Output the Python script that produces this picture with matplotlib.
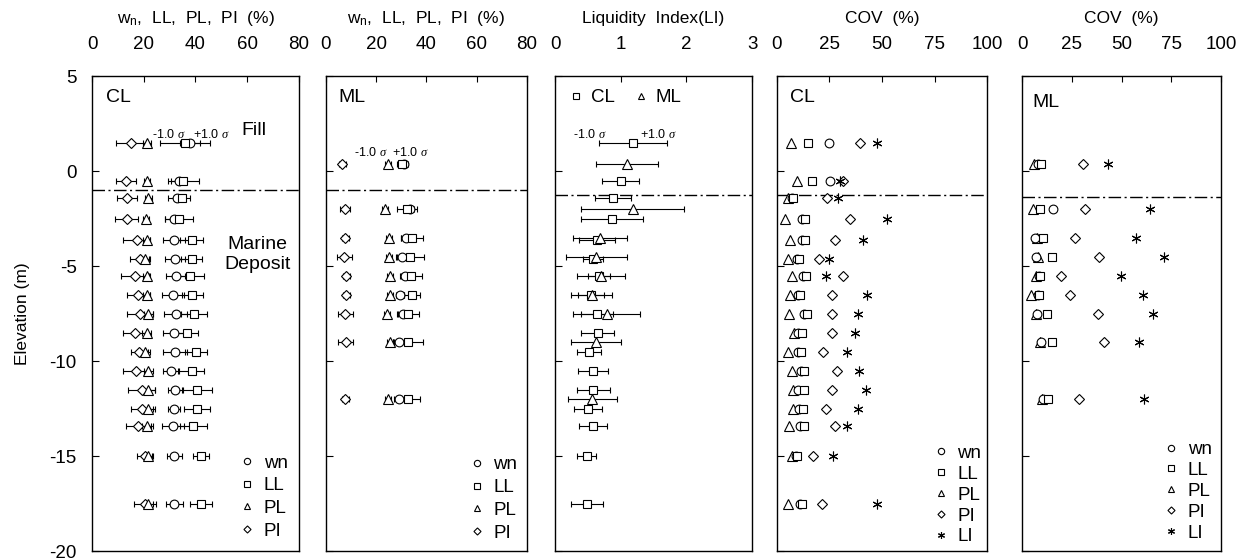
import matplotlib
matplotlib.use("Agg")
import matplotlib.pyplot as plt
from matplotlib.lines import Line2D

plt.rcParams["font.family"] = ["Liberation Sans", "DejaVu Sans"]
plt.rcParams["axes.unicode_minus"] = False
plt.rcParams["mathtext.fontset"] = "custom"
plt.rcParams["mathtext.rm"] = "Liberation Sans"
plt.rcParams["mathtext.it"] = "Liberation Serif:italic"

# sampling elevations (m) for the two soil groups
CL_ELEV = [1.5, -0.5, -1.4, -2.5, -3.6, -4.6, -5.5, -6.5, -7.5, -8.5, -9.5,
           -10.5, -11.5, -12.5, -13.4, -15.0, -17.5]
ML_ELEV = [0.4, -2.0, -3.5, -4.5, -5.5, -6.5, -7.5, -9.0, -12.0]

# CL: mean and standard deviation of index properties (%)
CL_WN = [37.9, 33.5, 32.7, 31.7, 31.7, 32.1, 32.3, 31.2, 32.3, 31.8, 32.1, 30.4, 32.1, 31.7, 31.4, 31.8, 31.8]
CL_WN_SD = [4.0, 3.0, 3.3, 3.5, 4.1, 3.9, 3.7, 4.3, 4.5, 4.5, 4.5, 3.0, 2.6, 2.5, 4.3, 3.0, 3.2]
CL_LL = [35.9, 35.2, 34.7, 33.7, 38.5, 38.5, 37.9, 38.8, 39.4, 36.8, 40.2, 38.5, 40.7, 40.5, 39.2, 42.0, 42.0]
CL_LL_SD = [9.7, 6.0, 3.0, 5.5, 4.3, 4.0, 5.4, 4.0, 4.9, 4.3, 4.4, 4.8, 5.6, 5.1, 5.1, 3.1, 4.2]
CL_PL = [21.3, 21.3, 21.8, 20.9, 21.1, 20.5, 21.1, 21.1, 21.8, 21.1, 20.5, 21.8, 21.8, 21.8, 21.4, 21.5, 21.8]
CL_PL_SD = [1.5, 1.2, 1.2, 1.2, 1.5, 1.5, 1.5, 1.5, 1.8, 1.8, 2.0, 1.8, 2.5, 2.5, 2.0, 1.8, 1.8]
CL_PI = [15.1, 13.1, 13.4, 13.4, 17.3, 18.6, 16.6, 17.9, 18.6, 16.6, 18.3, 17.0, 19.2, 19.2, 17.9, 20.5, 20.5]
CL_PI_SD = [5.8, 4.0, 3.8, 4.5, 5.2, 3.9, 5.5, 4.5, 5.0, 4.8, 3.4, 4.9, 5.2, 4.2, 4.8, 3.2, 4.4]

# ML: mean and standard deviation of index properties (%)
ML_WN = [31.0, 33.5, 31.9, 30.3, 31.5, 29.5, 30.7, 29.1, 29.1]
ML_WN_SD = [1.5, 1.5, 2.0, 2.0, 1.5, 1.5, 2.0, 2.0, 2.0]
ML_LL = [30.3, 32.3, 34.3, 33.5, 33.9, 34.3, 32.7, 32.7, 32.7]
ML_LL_SD = [2.0, 4.0, 4.5, 5.7, 4.5, 3.3, 4.5, 6.1, 4.9]
ML_PL = [24.6, 23.4, 25.0, 25.0, 25.5, 25.5, 24.2, 25.5, 24.6]
ML_PL_SD = [1.2, 1.2, 1.2, 1.2, 1.2, 1.2, 1.2, 1.2, 1.2]
ML_PI = [6.5, 7.7, 7.7, 7.3, 8.1, 8.1, 7.7, 7.9, 7.7]
ML_PI_SD = [1.5, 2.0, 1.5, 3.0, 1.5, 1.5, 3.0, 3.0, 1.5]

# liquidity index
CL_LI = [1.19, 1.0, 0.88, 0.87, 0.64, 0.58, 0.67, 0.55, 0.64, 0.65, 0.52, 0.58, 0.58, 0.50, 0.58, 0.48, 0.49]
CL_LI_SD = [0.52, 0.28, 0.27, 0.47, 0.28, 0.15, 0.17, 0.20, 0.25, 0.25, 0.18, 0.23, 0.25, 0.21, 0.21, 0.15, 0.24]
ML_LI = [1.10, 1.18, 0.68, 0.63, 0.70, 0.56, 0.79, 0.63, 0.57]
ML_LI_SD = [0.47, 0.78, 0.41, 0.47, 0.36, 0.31, 0.51, 0.38, 0.37]

# coefficient of variation (%)
COV_CL_WN = [25.0, 25.2, 7.0, 12.0, 12.0, 9.5, 12.5, 10.0, 12.8, 10.0, 10.0, 11.5, 10.0, 10.5, 11.0, 9.0, 11.0]
COV_CL_LL = [14.8, 16.5, 7.6, 13.3, 13.3, 10.5, 13.8, 11.0, 14.3, 11.9, 11.4, 12.9, 12.9, 12.4, 12.9, 9.5, 11.9]
COV_CL_PL = [6.7, 9.5, 5.2, 3.8, 6.2, 5.2, 7.1, 6.2, 5.7, 8.1, 5.2, 7.1, 7.6, 7.6, 5.7, 7.1, 5.2]
COV_CL_PI = [39.5, 31.4, 23.8, 34.8, 27.6, 20.0, 31.4, 26.2, 26.2, 26.2, 21.9, 28.6, 26.2, 23.3, 27.6, 17.1, 21.4]
COV_CL_LI = [47.6, 30.0, 29.0, 52.4, 41.0, 24.8, 23.3, 42.9, 38.6, 37.1, 33.3, 39.0, 42.4, 38.6, 33.3, 26.7, 47.6]

COV_ML_WN = [8.0, 15.6, 6.5, 7.0, 8.5, 8.0, 7.5, 9.5, 10.5]
COV_ML_LL = [9.5, 9.0, 10.6, 15.0, 9.0, 8.5, 12.6, 15.0, 13.1]
COV_ML_PL = [6.0, 5.5, 7.5, 8.0, 7.0, 4.4, 7.0, 9.0, 10.0]
COV_ML_PI = [30.7, 31.7, 26.6, 38.7, 19.6, 24.1, 38.2, 41.2, 28.6]
COV_ML_LI = [43.0, 64.3, 57.3, 71.4, 49.7, 60.8, 65.8, 58.8, 61.3]

# base of the fill layer as drawn on each panel
FILL_BASE = [-1.0, -1.0, -1.25, -1.25, -1.35]

MARKERS = {"wn": "o", "LL": "s", "PL": "^", "PI": "D", "LI": (6, 2, 0)}
MARKER_SIZE = {"wn": 6.3, "LL": 6.3, "PL": 6.5, "PI": 5.0, "LI": 7.0}
DASHDOT = (9, 2.5, 1.5, 2.5)


def open_marker(key, size=None):
    return dict(marker=MARKERS[key], ms=size or MARKER_SIZE[key], mfc="white",
                mec="k", mew=0.8, ls="none")


def style_axes(ax, xmax, xticks, xlabel, fill_base, show_y=False):
    ax.set_xlim(0, xmax)
    ax.set_ylim(-20, 5)
    ax.set_xticks(xticks)
    ax.set_yticks([5, 0, -5, -10, -15, -20])
    ax.xaxis.set_ticks_position("top")
    ax.xaxis.set_label_position("top")
    ax.tick_params(axis="x", direction="in", length=4, pad=17, labelsize=13.5)
    ax.tick_params(axis="y", direction="in", length=5, pad=11, labelsize=13.5,
                   labelleft=show_y)
    ax.set_xlabel(xlabel, fontsize=12.5, labelpad=9)
    for sp in ax.spines.values():
        sp.set_linewidth(1.0)
    ax.axhline(fill_base, color="k", lw=1.0, dashes=DASHDOT)


def draw_index_panel(ax, elev, values, sds):
    for key in ["PI", "PL", "wn", "LL"]:
        ax.errorbar(values[key], elev, xerr=sds[key], ecolor="k",
                    elinewidth=0.8, capsize=2.5, capthick=0.8, **open_marker(key))


def draw_cov_panel(ax, elev, values):
    for key in ["PL", "wn", "LL", "PI", "LI"]:
        ax.plot(values[key], elev, **open_marker(key))


def add_legend(ax, keys, **kw):
    handles = []
    for key in keys:
        style = open_marker(key, size=MARKER_SIZE[key] * 0.72)
        handles.append(Line2D([], [], label=key, **style))
    opts = dict(loc="lower right", frameon=False, fontsize=13.5, handlelength=0.8,
                handletextpad=0.5, labelspacing=0.2, borderaxespad=0.1,
                borderpad=0.2)
    opts.update(kw)
    ax.legend(handles=handles, **opts)


fig = plt.figure(figsize=(12.4, 5.6), dpi=100)
bottom, height = 0.016, 0.848
ax1 = fig.add_axes([0.0742, bottom, 0.1669, height])
ax2 = fig.add_axes([0.2629, bottom, 0.1620, height])
ax3 = fig.add_axes([0.4476, bottom, 0.1589, height])
ax4 = fig.add_axes([0.6266, bottom, 0.1694, height])
ax5 = fig.add_axes([0.8242, bottom, 0.1605, height])

index_label = r"w$_\mathregular{n}$,  LL,  PL,  PI  (%)"
style_axes(ax1, 80, [0, 20, 40, 60, 80], index_label, FILL_BASE[0], show_y=True)
style_axes(ax2, 80, [0, 20, 40, 60, 80], index_label, FILL_BASE[1])
style_axes(ax3, 3, [0, 1, 2, 3], "Liquidity  Index(LI)", FILL_BASE[2])
style_axes(ax4, 100, [0, 25, 50, 75, 100], "COV  (%)", FILL_BASE[3])
style_axes(ax5, 100, [0, 25, 50, 75, 100], "COV  (%)", FILL_BASE[4])
ax1.set_ylabel("Elevation (m)", fontsize=12.5, labelpad=14)

# CL index properties
draw_index_panel(ax1, CL_ELEV,
                 {"wn": CL_WN, "LL": CL_LL, "PL": CL_PL, "PI": CL_PI},
                 {"wn": CL_WN_SD, "LL": CL_LL_SD, "PL": CL_PL_SD, "PI": CL_PI_SD})
ax1.text(0.07, 0.955, "CL", transform=ax1.transAxes, fontsize=14, va="center")
ax1.text(29.5, 1.95, r"-1.0 $\sigma$", fontsize=9, ha="center", va="center")
ax1.text(46, 1.95, r"+1.0 $\sigma$", fontsize=9, ha="center", va="center")
ax1.text(62.5, 2.15, "Fill", fontsize=14, ha="center", va="center")
ax1.text(64, -4.4, "Marine\nDeposit", fontsize=14, ha="center", va="center",
         linespacing=1.2)
add_legend(ax1, ["wn", "LL", "PL", "PI"], labelspacing=0.3, borderaxespad=0.4)

# ML index properties
draw_index_panel(ax2, ML_ELEV,
                 {"wn": ML_WN, "LL": ML_LL, "PL": ML_PL, "PI": ML_PI},
                 {"wn": ML_WN_SD, "LL": ML_LL_SD, "PL": ML_PL_SD, "PI": ML_PI_SD})
ax2.text(0.06, 0.955, "ML", transform=ax2.transAxes, fontsize=14, va="center")
ax2.text(18, 1.0, r"-1.0 $\sigma$", fontsize=9, ha="center", va="center")
ax2.text(33.5, 1.0, r"+1.0 $\sigma$", fontsize=9, ha="center", va="center")
add_legend(ax2, ["wn", "LL", "PL", "PI"], labelspacing=0.3, borderaxespad=0.3)

# liquidity index of both groups
ax3.errorbar(CL_LI, CL_ELEV, xerr=CL_LI_SD, ecolor="k", elinewidth=0.8,
             capsize=2.5, capthick=0.8, **open_marker("LL"))
ax3.errorbar(ML_LI, ML_ELEV, xerr=ML_LI_SD, ecolor="k", elinewidth=0.8,
             capsize=2.5, capthick=0.8, **open_marker("PL"))
ax3.text(0.53, 1.95, r"-1.0 $\sigma$", fontsize=9, ha="center", va="center")
ax3.text(1.57, 1.95, r"+1.0 $\sigma$", fontsize=9, ha="center", va="center")
li_handles = [Line2D([], [], label="CL", **open_marker("LL", 4.5)),
              Line2D([], [], label="ML", **open_marker("PL", 4.5))]
ax3.legend(handles=li_handles, loc="upper left", ncol=2, frameon=False,
           fontsize=13.5, handlelength=0.8, handletextpad=0.4, columnspacing=1.0,
           borderaxespad=0.3)

# coefficients of variation
draw_cov_panel(ax4, CL_ELEV, {"wn": COV_CL_WN, "LL": COV_CL_LL, "PL": COV_CL_PL,
                              "PI": COV_CL_PI, "LI": COV_CL_LI})
ax4.text(0.06, 0.955, "CL", transform=ax4.transAxes, fontsize=14, va="center")
add_legend(ax4, ["wn", "LL", "PL", "PI", "LI"])

draw_cov_panel(ax5, ML_ELEV, {"wn": COV_ML_WN, "LL": COV_ML_LL, "PL": COV_ML_PL,
                              "PI": COV_ML_PI, "LI": COV_ML_LI})
ax5.text(0.05, 0.945, "ML", transform=ax5.transAxes, fontsize=14, va="center")
add_legend(ax5, ["wn", "LL", "PL", "PI", "LI"], borderaxespad=0.3)

fig.savefig("out.png", dpi=100)
